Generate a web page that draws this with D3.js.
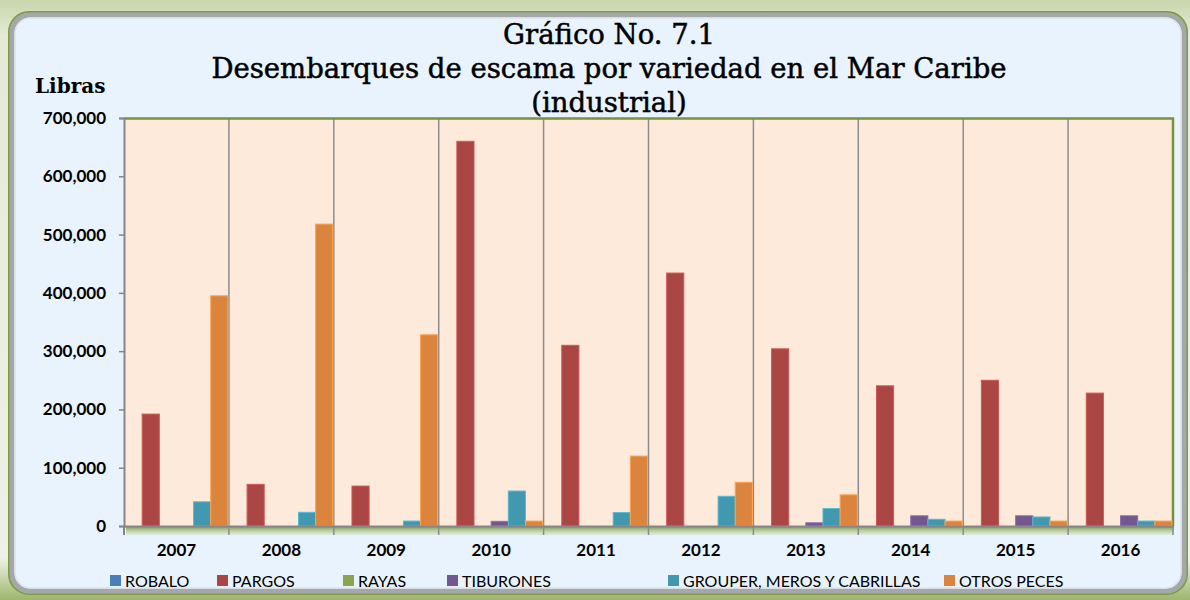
<!DOCTYPE html>
<html>
<head>
<meta charset="utf-8">
<script src="https://cdn.jsdelivr.net/npm/d3@7"></script>
<style>
  body { margin: 0; background: #ffffff; }
  svg { display: block; }
</style>
</head>
<body>
<div id="chart"></div>
<script>
// Data
let years = ["2007", "2008", "2009", "2010", "2011", "2012", "2013", "2014", "2015", "2016"];
let seriesNames = ["ROBALO", "PARGOS", "RAYAS", "TIBURONES", "GROUPER, MEROS Y CABRILLAS", "OTROS PECES"];
let robalo    = [0, 0, 0, 0, 0, 0, 0, 0, 0, 0];
let pargos    = [192000, 71500, 68500, 660000, 310000, 434000, 304000, 240500, 250000, 228000];
let rayas     = [0, 0, 0, 0, 0, 0, 0, 0, 0, 0];
let tiburones = [0, 0, 0, 8000, 0, 0, 5500, 17500, 17500, 17500];
let grouper   = [41500, 23500, 8500, 60000, 23000, 51000, 30000, 11500, 15500, 8500];
let otros     = [395000, 518000, 328000, 8500, 120000, 75000, 53500, 8500, 8500, 8500];
let yTicks = [0, 100000, 200000, 300000, 400000, 500000, 600000, 700000];

let colors = ["#4a7ebb", "#aa4643", "#89a54e", "#71588f", "#4198af", "#db843d"];
let allSeries = [robalo, pargos, rayas, tiburones, grouper, otros];

let svgWidth = 1190;
let svgHeight = 600;
let margin = { top: 118, right: 17, bottom: 74, left: 124 };
let chartWidth = svgWidth - margin.left - margin.right;
let chartHeight = svgHeight - margin.top - margin.bottom;

let svg = d3.select("#chart").append("svg")
    .attr("width", svgWidth)
    .attr("height", svgHeight);

let defs = svg.append("defs");
let bgGrad = defs.append("linearGradient").attr("id", "bgGrad").attr("x1", 0).attr("y1", 0).attr("x2", 0).attr("y2", 1);
bgGrad.append("stop").attr("offset", "0%").attr("stop-color", "#c9d6ac");
bgGrad.append("stop").attr("offset", "6%").attr("stop-color", "#e4ead6");
bgGrad.append("stop").attr("offset", "93%").attr("stop-color", "#eef1e6");
bgGrad.append("stop").attr("offset", "100%").attr("stop-color", "#9db56c");

let floorGrad = defs.append("linearGradient").attr("id", "floorGrad").attr("x1", 0).attr("y1", 0).attr("x2", 0).attr("y2", 1);
floorGrad.append("stop").attr("offset", "0%").attr("stop-color", "#77933c");
floorGrad.append("stop").attr("offset", "100%").attr("stop-color", "#c3d4a0").attr("stop-opacity", 0.3);

// frame
svg.append("rect").attr("width", svgWidth).attr("height", svgHeight).attr("fill", "url(#bgGrad)");
svg.append("rect")
    .attr("x", 9).attr("y", 12).attr("width", 1178).attr("height", 582)
    .attr("rx", 20)
    .attr("fill", "none").attr("stroke", "#7f9b45").attr("stroke-width", 2);
svg.append("rect")
    .attr("x", 12).attr("y", 15).attr("width", 1172).attr("height", 576)
    .attr("rx", 18)
    .attr("fill", "#e9f3fd").attr("stroke", "#a4a8ab").attr("stroke-width", 5);
svg.append("rect")
    .attr("x", 15).attr("y", 18).attr("width", 1166).attr("height", 570)
    .attr("rx", 16)
    .attr("fill", "none").attr("stroke", "#e0e4e8").attr("stroke-width", 1.5);

let g = svg.append("g").attr("transform", `translate(${margin.left},${margin.top})`);

let x0 = d3.scaleBand().domain(years).range([0, chartWidth]).paddingInner(0).paddingOuter(0);
let x1 = d3.scaleBand().domain(seriesNames).range([0, x0.bandwidth()]).paddingOuter(0.06);
let y = d3.scaleLinear().domain([0, 700000]).range([chartHeight, 0]);

// floor
g.append("rect")
    .attr("x", 2).attr("y", chartHeight).attr("width", chartWidth - 1).attr("height", 9)
    .attr("fill", "url(#floorGrad)");

// plot area
g.append("rect")
    .attr("width", chartWidth).attr("height", chartHeight)
    .attr("fill", "#fdeadb");

// vertical dividers (also the x tick marks)
g.selectAll(".divider")
    .data(years.slice(1))
    .enter().append("line")
    .attr("class", "divider")
    .attr("x1", d => x0(d)).attr("x2", d => x0(d))
    .attr("y1", 0).attr("y2", chartHeight + 9)
    .attr("stroke", "#8c8c8c").attr("stroke-width", 1.5);
g.append("line")
    .attr("x1", 0).attr("x2", 0).attr("y1", chartHeight).attr("y2", chartHeight + 9)
    .attr("stroke", "#868686").attr("stroke-width", 2);
g.append("line")
    .attr("x1", chartWidth).attr("x2", chartWidth).attr("y1", chartHeight).attr("y2", chartHeight + 9)
    .attr("stroke", "#8c8c8c").attr("stroke-width", 1.5);

// top and right border
g.append("path")
    .attr("d", `M0,0.5H${chartWidth}V${chartHeight}`)
    .attr("fill", "none").attr("stroke", "#77933c").attr("stroke-width", 2.5);

// bars
let groups = g.selectAll(".year")
    .data(years)
    .enter().append("g")
    .attr("class", "year")
    .attr("transform", d => `translate(${x0(d)},0)`);

groups.selectAll("rect")
    .data((d, i) => seriesNames.map((s, j) => ({ s: s, v: allSeries[j][i], c: colors[j] })))
    .enter().append("rect")
    .attr("x", d => x1(d.s))
    .attr("width", x1.bandwidth())
    .attr("y", d => y(d.v))
    .attr("height", d => chartHeight - y(d.v))
    .attr("fill", d => d.c)
    .attr("stroke", d => d3.color(d.c).brighter(0.6))
    .attr("stroke-width", d => d.v > 0 ? 1 : 0);

// y axis
let yAxis = d3.axisLeft(y).tickValues(yTicks).tickSize(5).tickFormat(d3.format(","));
let yg = g.append("g").call(yAxis);
yg.select(".domain").attr("stroke", "#868686").attr("stroke-width", 2);
yg.selectAll(".tick line").attr("stroke", "#868686").attr("stroke-width", 1.5);
yg.selectAll(".tick text")
    .attr("x", -18)
    .attr("fill", "#000")
    .style("font-family", "Lato, 'Open Sans', sans-serif")
    .style("font-weight", "bold")
    .style("font-size", "17px");

// x axis
let xg = g.append("g").attr("transform", `translate(0,${chartHeight})`)
    .call(d3.axisBottom(x0).tickSize(0).tickPadding(18));
xg.select(".domain").attr("stroke", "#868686").attr("stroke-width", 2);
xg.selectAll(".tick text")
    .attr("fill", "#000")
    .style("font-family", "Lato, 'Open Sans', sans-serif")
    .style("font-weight", "bold")
    .style("font-size", "17px");

// titles
let titleLines = ["Gráfico No. 7.1", "Desembarques de escama por variedad en el Mar Caribe", "(industrial)"];
svg.selectAll(".title")
    .data(titleLines)
    .enter().append("text")
    .attr("class", "title")
    .attr("x", 609)
    .attr("y", (d, i) => 44 + i * 34)
    .attr("text-anchor", "middle")
    .style("font-family", "'DejaVu Serif', serif")
    .style("font-size", "27.5px")
    .attr("fill", "#000")
    .attr("stroke", "#000")
    .attr("stroke-width", 0.5)
    .text(d => d);

svg.append("text")
    .attr("x", 35).attr("y", 93)
    .style("font-family", "'DejaVu Serif', serif")
    .style("font-size", "20px")
    .style("font-weight", "bold")
    .attr("fill", "#000")
    .text("Libras");

// legend
let legendX = [110, 217, 343, 447, 668, 944];
let legend = svg.selectAll(".legend")
    .data(seriesNames)
    .enter().append("g")
    .attr("class", "legend")
    .attr("transform", (d, i) => `translate(${legendX[i]},575)`);
legend.append("rect").attr("width", 11).attr("height", 11).attr("fill", (d, i) => colors[i]);
legend.append("text")
    .attr("x", 15).attr("y", 11.5)
    .style("font-family", "Lato, 'Open Sans', sans-serif")
    .style("font-size", "16px")
    .attr("fill", "#000")
    .text(d => d);
</script>
</body>
</html>
